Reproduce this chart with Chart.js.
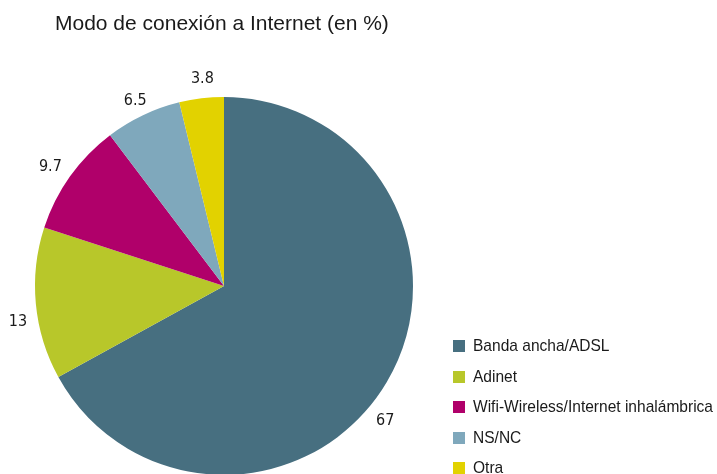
<!DOCTYPE html>
<html>
<head>
<meta charset="utf-8">
<script src="https://cdn.jsdelivr.net/npm/chart.js@4"></script>
<style>
  body { margin: 0; background: #fff; overflow: hidden; }
  #wrap { position: relative; width: 717px; height: 474px; overflow: hidden; }
  #chart { position: absolute; left: 0; top: 0; }
  #title {
    position: absolute; left: 55px; top: 11px;
    font: 21px "Liberation Sans", Arial, sans-serif; color: #1a1a1a; white-space: nowrap;
  }
  #legend { position: absolute; left: 453px; top: 331px; }
  .item { height: 30.5px; display: flex; align-items: center; white-space: nowrap;
    font: 17px "Liberation Sans", Arial, sans-serif; color: #1a1a1a; }
  .sw { width: 12px; height: 12px; margin-right: 8px; flex: none; }
  .txt { display: inline-block; transform-origin: 0 50%; }
</style>
</head>
<body>
<div id="wrap">
  <canvas id="chart" width="717" height="480"></canvas>
  <div id="title">Modo de conexión a Internet (en %)</div>
  <div id="legend"></div>
</div>
<script>
///////////////圖表
const labels = ["Banda ancha/ADSL", "Adinet", "Wifi-Wireless/Internet inhalámbrica", "NS/NC", "Otra"];
const values = [67, 13, 9.7, 6.5, 3.8];
const colors = ["#476f80", "#b8c72a", "#b0006a", "#7fa8bc", "#e2d200"];

// small shifts for the value labels around the pie
const labelNudge = [[-17, 29], [0, 16], [-5, 1], [0, 2], [3, -2]];

const outsideLabels = {
  id: "outsideLabels",
  afterDatasetsDraw(chart) {
    const ctx = chart.ctx;
    const meta = chart.getDatasetMeta(0);
    ctx.save();
    ctx.font = '16px "DejaVu Sans Condensed", "Liberation Sans", sans-serif';
    ctx.fillStyle = "#1a1a1a";
    ctx.textAlign = "center";
    ctx.textBaseline = "middle";
    meta.data.forEach((arc, i) => {
      const mid = (arc.startAngle + arc.endAngle) / 2;
      const r = arc.outerRadius + 18;
      const x = arc.x + Math.cos(mid) * r + labelNudge[i][0];
      const y = arc.y + Math.sin(mid) * r + labelNudge[i][1];
      ctx.fillText(String(values[i]), x, y);
    });
    ctx.restore();
  },
};

const data = {
  labels: labels,
  datasets: [
    {
      data: values,
      backgroundColor: colors,
      borderWidth: 0,
    },
  ],
};

const config = {
  type: "pie",
  data: data,
  options: {
    responsive: false,
    animation: false,
    layout: { padding: { left: 35, top: 97, right: 304, bottom: 5 } },
    plugins: {
      legend: { display: false },
      tooltip: { enabled: false },
    },
  },
  plugins: [outsideLabels],
};

const myChart = new Chart(document.getElementById("chart"), config);

// legend list, squeezed to a condensed look
const legend = document.getElementById("legend");
const spans = [];
labels.forEach((name, i) => {
  const row = document.createElement("div");
  row.className = "item";
  const sw = document.createElement("span");
  sw.className = "sw";
  sw.style.background = colors[i];
  const txt = document.createElement("span");
  txt.className = "txt";
  txt.textContent = name;
  row.appendChild(sw);
  row.appendChild(txt);
  legend.appendChild(row);
  spans.push(txt);
});
const widest = Math.max(...spans.map(s => s.getBoundingClientRect().width));
const squeeze = 240 / widest;
spans.forEach(s => { s.style.transform = "scaleX(" + squeeze + ")"; });
</script>
</body>
</html>
